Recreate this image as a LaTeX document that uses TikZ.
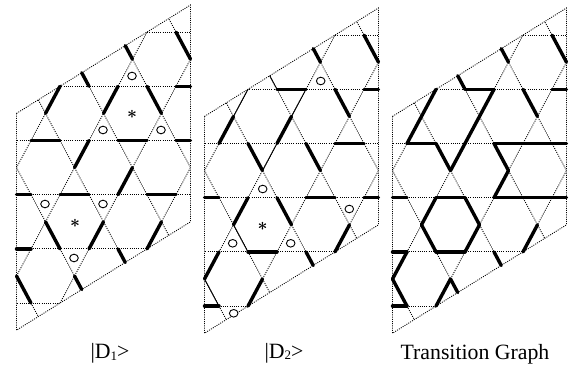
\documentclass[tikz,border=0pt]{standalone}
\usepackage{fontspec}
\setmainfont{Liberation Serif}
\usetikzlibrary{shapes.geometric}
\tikzset{
  latline/.style={line width=0.85pt,dash pattern=on 1pt off 1.2pt,black},
  bond/.style={line width=3.4pt,line cap=round,black},
  thinbond/.style={line width=0.9pt,black},
  ring/.style={draw,line width=0.9pt,ellipse,minimum width=8.6pt,minimum height=7.6pt,inner sep=0pt,fill=white},
  starmark/.style={inner sep=0pt,font=\fontsize{19}{19}\selectfont\boldmath},
  caption/.style={inner sep=0pt,anchor=base,font=\fontsize{21.8}{22}\selectfont}
}
\newcommand{\lattice}{%
  \begin{scope}
    \clip (-1,4) -- (11,0) -- (11,8) -- (-1,12) -- cycle;
    \foreach \v in {1,3,5,7,9,11} \draw[latline] (-2,\v) -- (12,\v);
    \foreach \c in {5,9,13,17} \draw[latline] (-2,\c+2) -- (12,\c-12);
    \foreach \d in {-11,-7,-3,1,5,9} \draw[latline] (-2,-2-\d) -- (12,12-\d);
  \end{scope}
  \draw[latline] (-1,4) -- (11,0) -- (11,8) -- (-1,12) -- cycle;
}
\newcommand{\bondsBoth}{%
  \foreach \a/\b/\c/\d in {10/1/11/2,6.5/1.5/7/2,8/3/9/4,10/3/11/3,-1/7/0/7,9/8/8/9,6/9/6.5/9.5}
    \draw[bond] (\a,\b) -- (\c,\d);
}
\newcommand{\bondsA}{%
  \foreach \a/\b/\c/\d in {3.5/2.5/4/3,2/3/1/4,6/3/5/4,0/5/2/5,6/5/8/5,10/5/11/5,4/5/3/6,7/6/6/7,2/7/4/7,8/7/10/7,1/8/2/9,5/8/4/9,-1/9/0/9,3/10/3.5/10.5,-1/10/0/11}
    \draw[bond] (\a,\b) -- (\c,\d);
}
\newcommand{\bondsB}{%
  \foreach \a/\b/\c/\d in {4/3/6/3,1/4/0/5,5/4/4/5,2/5/3/6,6/5/7/6,8/5/10/5,2/7/1/8,4/7/5/8,6/7/8/7,10/7/11/7,2/9/4/9,0/9/-1/10,3/10/2/11,-1/11/0/11}
    \draw[bond] (\a,\b) -- (\c,\d);
}
\begin{document}
\begin{tikzpicture}[x=1pt,y=-1pt]
\useasboundingbox (0,0) rectangle (576,366);
% panel 1
\begin{scope}[shift={(31,5)},x=14.5pt,y=-27.1pt]
  \lattice \bondsBoth \bondsA
\end{scope}
\foreach \n/\x/\y in {a/132/76,b/103/130,c/161/130,d/45/204,e/103/204,f/74/258}
  \node[ring] (r1\n) at (\x,\y) {};
\node[starmark] (s1a) at (132,114.5) {$\ast$};
\node[starmark] (s1b) at (75,223.5) {$\ast$};
% panel 2
\begin{scope}[shift={(219,8)},x=14.5pt,y=-27.1pt]
  \lattice
  \foreach \a/\b/\c/\d in {3.5/2.5/4/3,2/3/1/4,6/3/5/4,4/5/3/6,1/8/2/9,-1/10/0/11}
    \draw[thinbond] (\a,\b) -- (\c,\d);
  \bondsBoth \bondsB
\end{scope}
\foreach \n/\x/\y in {a/320.7/81,b/262.7/189,c/349.3/209,d/232.7/243.3,e/290.7/243.3,f/233.7/313.3}
  \node[ring] (r2\n) at (\x,\y) {};
\node[starmark] (s2a) at (262.5,226.5) {$\ast$};
% panel 3
\begin{scope}[shift={(407,8)},x=14.5pt,y=-27.1pt]
  \lattice \bondsBoth \bondsA \bondsB
\end{scope}
% captions
\node[caption] (cap1) at (110,358) {|D\raisebox{-2.5pt}{\fontsize{13}{13}\selectfont 1}>};
\node[caption] (cap2) at (284,358) {|D\raisebox{-1pt}{\fontsize{13}{13}\selectfont 2}>};
\node[caption] (cap3) at (475,359) {Transition Graph};
\end{tikzpicture}
\end{document}
